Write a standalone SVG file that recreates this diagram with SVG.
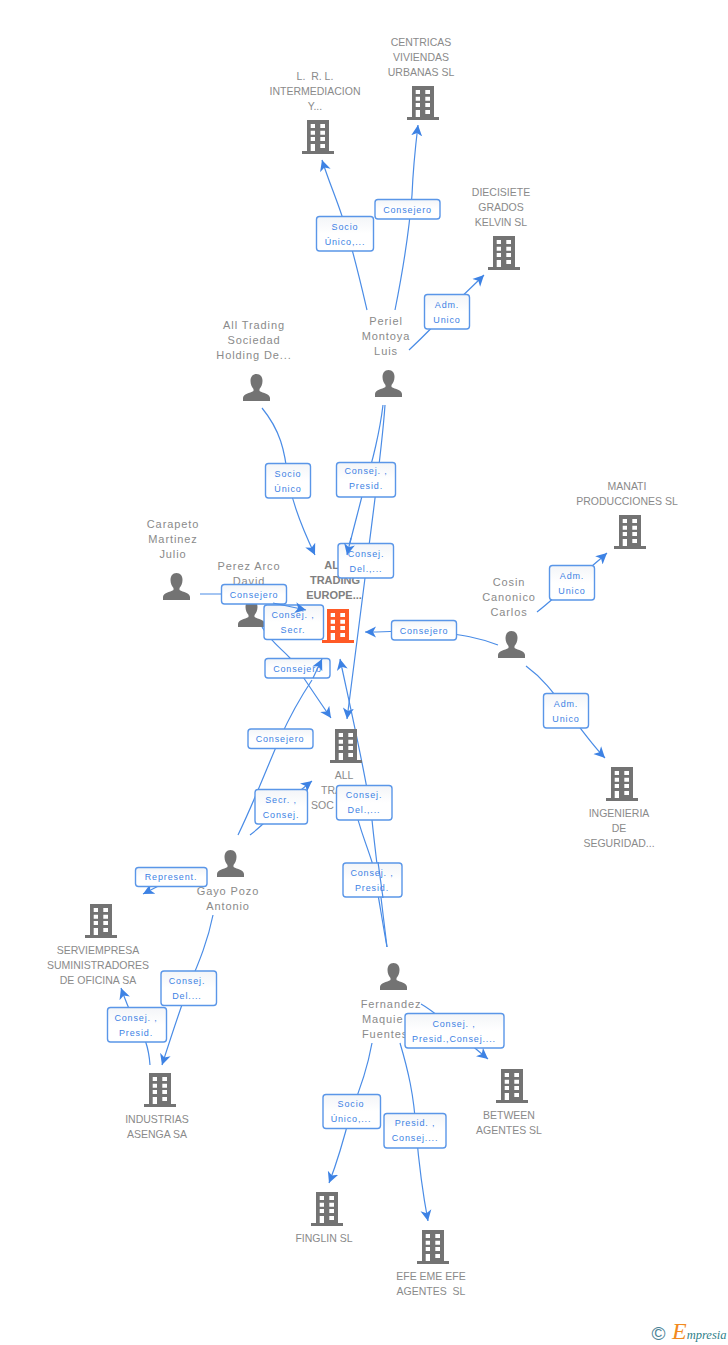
<svg xmlns="http://www.w3.org/2000/svg" width="728" height="1345" viewBox="0 0 728 1345">
<style>
text{font-family:"Liberation Sans",Arial,sans-serif;text-anchor:middle;white-space:pre}
.n{font-size:11px;letter-spacing:.9px;fill:#8a8a8a}
.c{font-size:10.5px;letter-spacing:0;fill:#8a8a8a}
.s{text-anchor:start}
.b{font-size:11px;font-weight:bold;fill:#808080}
.l{font-size:9px;letter-spacing:.85px;fill:#3d82e4}
.box{fill:url(#g);stroke:#5a96e8;stroke-width:1.4}
.cn{fill:none;stroke:#4a8ce6;stroke-width:1.2}
.ar{marker-end:url(#a)}
</style>
<defs>
<linearGradient id="g" x1="0" y1="0" x2="0" y2="1"><stop offset="0" stop-color="#f3f5f8"/><stop offset=".5" stop-color="#fff"/><stop offset="1" stop-color="#fff"/></linearGradient>
<marker id="a" markerUnits="userSpaceOnUse" markerWidth="14" markerHeight="12" refX="11" refY="6" orient="auto"><path d="M0,.5L11,6L0,11.5L3,6Z" fill="#3d82e4"/></marker>
<symbol id="bd" width="32" height="34" viewBox="0 0 32 34"><path fill-rule="evenodd" d="M5,0H27V31H32V34H0V31H5ZM8.7,4V8H13V4ZM18.3,4V8H23V4ZM8.7,10.7V14.7H13V10.7ZM18.3,10.7V14.7H23V10.7ZM8.7,17V21H13V17ZM18.3,17V21H23V17ZM8.7,24V31H13V24ZM18.3,24V28H23V24Z"/></symbol>
<symbol id="pr" width="27" height="27" viewBox="0 0 27 27"><path d="M13.5,0C17.5,0 19.5,3 19.5,7C19.5,10.5 18,13.5 16.500,15V17C20,19 27,20 27,24V27H0V24C0,20 7,19 10.500,17V15C9,13.500 7.500,10.500 7.500,7C7.500,3 9.500,0 13.500,0Z"/></symbol>
</defs>

<g id="connectors">
<path class="cn ar" d="M367,310C360,280 352,245 342,216C335,195 329,182 322,160"/>
<path class="cn ar" d="M395,310C404,265 410,220 412,195C413,170 415,150 418,125"/>
<path class="cn ar" d="M409,350C425,335 435,325 447,311C460,298 472,287 484,275"/>
<path class="cn ar" d="M262,408C280,430 285,450 288,480C293,505 303,530 315,555"/>
<path class="cn" d="M383,405C380,430 372,465 366,480C360,505 353,530 347,555"/>
<path class="cn ar" d="M385,405C382,450 372,520 365,578C358,630 352,680 347,719"/>
<path class="cn" d="M200,594H254L273,603"/>
<path class="cn ar" d="M262,627C270,641 283,650 290,658C300,672 315,695 331,718"/>
<path class="cn ar" d="M498,645C480,638 465,635 424,630C405,631 385,632 365,632"/>
<path class="cn ar" d="M537,612C550,602 560,592 572,582C585,572 596,563 607,553"/>
<path class="cn ar" d="M526,666C545,680 555,695 566,710C580,727 592,745 605,758"/>
<path class="cn" d="M238,835C255,800 270,760 280,738C290,716 302,695 312,680"/>
<path class="cn ar" d="M250,835C262,826 272,815 281,807C292,797 302,789 312,781"/>
<path class="cn" d="M387,947C382,920 376,880 372,862C365,840 358,825 353,800"/>
<path class="cn ar" d="M387,947C382,905 375,850 372,820C368,785 352,715 340,659"/>
<path class="cn ar" d="M170,880L143,894"/>
<path class="cn ar" d="M213,915C208,940 200,960 188,988C178,1015 170,1040 162,1065"/>
<path class="cn ar" d="M150,1065C149,1050 145,1035 136,1024C130,1012 126,1002 121,988"/>
<path class="cn ar" d="M421,1004C435,1012 445,1022 455,1030C465,1040 477,1050 488,1059"/>
<path class="cn ar" d="M372,1043C368,1065 360,1090 351,1111C345,1135 338,1160 329,1183"/>
<path class="cn ar" d="M400,1043C408,1070 414,1095 416,1130C419,1165 423,1195 428,1221"/>
</g>

<g id="n-centricas" fill="#737373"><text class="c" x="421" y="46">CENTRICAS</text><text class="c" x="421" y="61">VIVIENDAS</text><text class="c" x="421" y="76">URBANAS SL</text><use href="#bd" x="407" y="86"/></g>
<g id="n-lrl" fill="#737373"><text class="c" x="315" y="80">L.  R. L.</text><text class="c" x="315" y="95">INTERMEDIACION</text><text class="c" x="315" y="110">Y...</text><use href="#bd" x="302" y="120"/></g>
<g id="n-diecisiete" fill="#737373"><text class="c" x="501" y="196">DIECISIETE</text><text class="c" x="501" y="211">GRADOS</text><text class="c" x="501" y="226">KELVIN SL</text><use href="#bd" x="488" y="236"/></g>
<g id="n-peirel" fill="#737373"><text class="n" x="386" y="325">Periel</text><text class="n" x="386" y="340">Montoya</text><text class="n" x="386" y="355">Luis</text><use href="#pr" x="375" y="370"/></g>
<g id="n-alltrading" fill="#737373"><text class="n" x="254" y="329">All Trading</text><text class="n" x="254" y="344">Sociedad</text><text class="n" x="254" y="359">Holding De...</text><use href="#pr" x="243" y="374"/></g>
<g id="n-manati" fill="#737373"><text class="c" x="627" y="490">MANATI</text><text class="c" x="627" y="505">PRODUCCIONES SL</text><use href="#bd" x="614" y="515"/></g>
<g id="n-carapeto" fill="#737373"><text class="n" x="173" y="528">Carapeto</text><text class="n" x="173" y="543">Martinez</text><text class="n" x="173" y="558">Julio</text><use href="#pr" x="163" y="573"/></g>
<g id="n-perez" fill="#737373"><text class="n" x="249" y="570">Perez Arco</text><text class="n" x="249" y="585">David</text><use href="#pr" x="238" y="600"/></g>
<g id="n-orange" fill="#ff5a26"><text class="b" x="335" y="569">ALL</text><text class="b" x="335" y="584">TRADING</text><text class="b" x="334" y="599">EUROPE...</text><use href="#bd" x="322" y="609"/></g>
<g id="n-cosin" fill="#737373"><text class="n" x="509" y="586">Cosin</text><text class="n" x="509" y="601">Canonico</text><text class="n" x="509" y="616">Carlos</text><use href="#pr" x="498" y="631"/></g>
<g id="n-alltra" fill="#737373"><text class="c" x="344" y="779">ALL</text><text class="c s" x="321" y="794">TRA</text><text class="c s" x="311" y="809">SOC</text><use href="#bd" x="330" y="729"/></g>
<g id="n-ingenieria" fill="#737373"><text class="c" x="619" y="817">INGENIERIA</text><text class="c" x="619" y="832">DE</text><text class="c" x="619" y="847">SEGURIDAD...</text><use href="#bd" x="606" y="767"/></g>
<g id="n-gayo" fill="#737373"><text class="n" x="228" y="895">Gayo Pozo</text><text class="n" x="228" y="910">Antonio</text><use href="#pr" x="217" y="850"/></g>
<g id="n-serviempresa" fill="#737373"><text class="c" x="98" y="954">SERVIEMPRESA</text><text class="c" x="98" y="969">SUMINISTRADORES</text><text class="c" x="98" y="984">DE OFICINA SA</text><use href="#bd" x="85" y="904"/></g>
<g id="n-industrias" fill="#737373"><text class="c" x="157" y="1123">INDUSTRIAS</text><text class="c" x="157" y="1138">ASENGA SA</text><use href="#bd" x="144" y="1073"/></g>
<g id="n-fernandez" fill="#737373"><text class="n" x="391" y="1008">Fernandez</text><text class="n s" x="362" y="1023">Maquie</text><text class="n s" x="362" y="1038">Fuentes</text><use href="#pr" x="380" y="963"/></g>
<g id="n-between" fill="#737373"><text class="c" x="509" y="1119">BETWEEN</text><text class="c" x="509" y="1134">AGENTES SL</text><use href="#bd" x="496" y="1069"/></g>
<g id="n-finglin" fill="#737373"><text class="c" x="324" y="1242">FINGLIN SL</text><use href="#bd" x="311" y="1192"/></g>
<g id="n-efe" fill="#737373"><text class="c" x="431" y="1280">EFE EME EFE</text><text class="c" x="431" y="1295">AGENTES  SL</text><use href="#bd" x="417" y="1230"/></g>

<g id="labels">
<g><rect class="box" x="316.500" y="216.500" width="57" height="34.500" rx="3"/><text class="l" x="345" y="230">Socio</text><text class="l" x="345" y="245">Único,...</text></g>
<g><rect class="box" x="375" y="199.500" width="65" height="19.500" rx="3"/><text class="l" x="407.500" y="213">Consejero</text></g>
<g><rect class="box" x="424.500" y="294.500" width="45" height="34.500" rx="3"/><text class="l" x="447" y="308">Adm.</text><text class="l" x="447" y="323">Unico</text></g>
<g><rect class="box" x="265.500" y="463.500" width="45" height="34.500" rx="3"/><text class="l" x="288" y="477">Socio</text><text class="l" x="288" y="492">Único</text></g>
<g><rect class="box" x="336.500" y="462.500" width="59" height="34.500" rx="3"/><text class="l" x="366" y="474">Consej. ,</text><text class="l" x="366" y="489">Presid.</text></g>
<g><rect class="box" x="338" y="543.500" width="55.500" height="34.500" rx="3"/><text class="l" x="366" y="557">Consej.</text><text class="l" x="366" y="572">Del.,...</text></g>
<g><rect class="box" x="221.500" y="584.500" width="65" height="19.500" rx="3"/><text class="l" x="254" y="598">Consejero</text></g>
<g><rect class="box" x="264" y="605" width="59.500" height="34.500" rx="3"/><text class="l" x="293" y="618">Consej. ,</text><text class="l" x="293" y="633">Secr.</text></g>
<g><rect class="box" x="265" y="658.500" width="65" height="19.500" rx="3"/><text class="l" x="297.500" y="672">Consejero</text></g>
<g><rect class="box" x="248" y="729" width="65" height="19.500" rx="3"/><text class="l" x="280" y="742">Consejero</text></g>
<g><rect class="box" x="391.500" y="620.500" width="65" height="19.500" rx="3"/><text class="l" x="424" y="634">Consejero</text></g>
<g><rect class="box" x="549.500" y="565.500" width="45" height="34.500" rx="3"/><text class="l" x="572" y="579">Adm.</text><text class="l" x="572" y="594">Unico</text></g>
<g><rect class="box" x="543.500" y="693.500" width="45" height="34.500" rx="3"/><text class="l" x="566" y="707">Adm.</text><text class="l" x="566" y="722">Unico</text></g>
<g><rect class="box" x="255" y="789.500" width="52.500" height="34.500" rx="3"/><text class="l" x="281" y="803">Secr. ,</text><text class="l" x="281" y="818">Consej.</text></g>
<g><rect class="box" x="336.500" y="785.500" width="55.500" height="34.500" rx="3"/><text class="l" x="364" y="798">Consej.</text><text class="l" x="364" y="813">Del.,...</text></g>
<g><rect class="box" x="343" y="863" width="59" height="34" rx="3"/><text class="l" x="372" y="876">Consej. ,</text><text class="l" x="372" y="891">Presid.</text></g>
<g><rect class="box" x="135.500" y="867.500" width="71.500" height="19" rx="3"/><text class="l" x="171" y="880">Represent.</text></g>
<g><rect class="box" x="161" y="971" width="55.500" height="34.500" rx="3"/><text class="l" x="187" y="984">Consej.</text><text class="l" x="187" y="999">Del....</text></g>
<g><rect class="box" x="107.500" y="1007.500" width="59" height="34.500" rx="3"/><text class="l" x="136" y="1021">Consej. ,</text><text class="l" x="136" y="1036">Presid.</text></g>
<g><rect class="box" x="405" y="1013.500" width="99" height="34.500" rx="3"/><text class="l" x="454" y="1027">Consej. ,</text><text class="l" x="454" y="1042">Presid.,Consej....</text></g>
<g><rect class="box" x="323" y="1094.500" width="57.500" height="34" rx="3"/><text class="l" x="351" y="1107">Socio</text><text class="l" x="351" y="1122">Único,...</text></g>
<g><rect class="box" x="384" y="1113.500" width="62" height="34.500" rx="3"/><text class="l" x="415" y="1126">Presid. ,</text><text class="l" x="415" y="1141">Consej....</text></g>
</g>

<g id="connector-ends">
<path class="cn ar" d="M351,538L347,555"/>
<path class="cn ar" d="M273,603L306,610"/>
<path class="cn ar" d="M313,678L322,659"/>
<path class="cn" d="M378,862L383,898"/>
</g>

<g id="watermark"><text x="658.500" y="1340" style="font-size:19px;fill:#4a8296">©</text><text x="672" y="1339" style="text-anchor:start;font-family:'Liberation Serif',serif;font-style:italic;font-size:12.5px;fill:#2f7f8a"><tspan style="font-size:24px;fill:#f28a1e">E</tspan>mpresia</text></g>
</svg>
